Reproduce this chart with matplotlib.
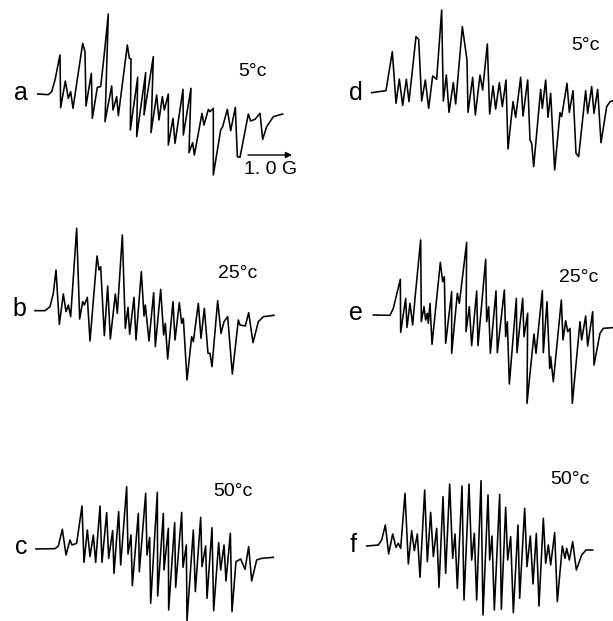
import matplotlib
matplotlib.use("Agg")
from matplotlib import pyplot as plt

a_x = [113,145,155,165,180,182,196,205,212,219,248,255,258,274,277,292,302,312,325,315,335,339,350,355,382,388,393,391,413,410,437,432,460,453,470,477,487,493,505,505,519,525,549,550,573,567,578,583,606,612,625,630,640,640,662,668,682,692,706,712,720,745,752,765,780,788,800,820,848]
a_y = [282,284,275,240,165,323,243,295,275,325,130,155,318,220,355,262,260,170,42,365,258,330,290,347,135,175,177,390,232,410,218,345,170,398,285,360,290,330,282,435,355,430,268,405,265,458,428,465,340,375,328,335,325,525,390,380,328,392,322,470,472,342,363,358,340,418,380,350,342]

b_x = [105,135,150,160,168,178,190,198,205,212,230,239,248,253,262,270,291,297,302,313,323,331,346,352,367,376,384,389,402,408,424,432,436,447,461,466,482,491,496,503,519,525,538,545,550,561,575,580,595,603,613,624,630,636,653,663,672,683,697,715,720,736,746,759,775,790,822]
b_y = [302,302,290,250,180,343,252,305,285,320,55,327,275,285,262,393,138,180,170,377,228,387,252,310,75,355,292,373,262,390,185,318,285,393,248,410,238,375,340,447,275,390,278,340,325,510,380,395,280,385,295,430,430,470,272,370,335,320,492,330,345,348,308,398,335,320,316]

c_x = [108,165,175,187,198,210,216,230,246,252,262,270,280,287,300,306,320,326,338,342,356,362,380,384,393,397,415,418,437,441,449,452,472,473,490,492,505,506,524,527,545,549,559,561,580,586,602,606,617,621,636,641,656,662,672,678,691,696,708,722,735,746,755,770,785,820]
c_y = [267,266,258,208,285,240,255,250,138,307,210,290,225,307,138,307,158,295,212,340,155,315,80,282,225,377,160,335,100,285,232,430,97,408,160,330,205,450,188,382,157,322,255,482,210,395,172,320,258,415,203,452,248,330,255,363,220,455,305,297,328,260,363,300,295,292]

d_x = [95,138,157,168,178,188,199,207,228,236,245,256,266,278,290,305,310,319,327,340,347,367,381,384,398,406,420,428,442,449,459,467,478,487,498,504,519,527,542,549,563,570,575,581,602,607,617,624,632,644,660,665,681,688,699,708,716,737,743,755,762,773,783,800,810,819]
d_y = [278,272,155,310,237,316,238,305,110,118,303,240,325,228,238,30,303,225,337,248,312,80,180,337,232,345,225,270,132,342,258,327,248,320,240,447,305,352,232,348,240,420,430,500,268,325,240,352,280,510,338,350,250,337,272,460,470,272,340,260,340,268,428,320,305,302]

e_x = [100,150,160,181,182,197,201,210,218,225,242,244,252,257,262,265,270,276,301,308,313,317,335,335,352,358,380,378,388,395,410,414,437,440,446,451,468,472,493,497,502,508,529,531,548,552,563,561,582,588,607,610,621,629,632,640,664,669,677,683,690,697,720,725,737,743,758,762,780,790,818]
e_y = [255,256,235,148,307,205,292,220,285,205,30,275,230,270,250,280,220,343,97,155,140,340,185,370,190,220,37,305,230,347,183,347,88,275,230,370,183,368,180,320,275,462,205,368,205,320,250,520,312,370,182,368,215,415,380,455,210,330,272,305,295,520,275,330,258,348,245,405,310,295,293]

f_x = [80,115,125,136,146,158,168,175,182,195,205,215,223,232,240,254,262,272,280,290,297,309,317,329,338,345,352,366,372,387,395,403,410,423,429,444,449,456,463,479,484,497,503,512,520,534,539,554,561,571,579,589,597,610,617,625,632,644,652,667,675,680,688,698,709,725,738,758]
f_y = [258,255,240,195,282,222,262,250,265,100,312,212,272,222,352,90,305,157,290,205,382,110,340,72,295,222,385,78,420,72,300,220,420,62,465,105,300,228,450,103,448,142,300,230,458,195,415,145,320,228,372,220,438,175,310,255,315,218,425,258,295,265,300,245,330,285,270,270]

panel_traces = [(a_x, a_y), (b_x, b_y), (c_x, c_y), (d_x, d_y), (e_x, e_y), (f_x, f_y)]
# crop of the picture each trace was read from: left, top, width, height
panel_crops = [(0, 0, 310, 200), (0, 210, 310, 190), (0, 460, 310, 161),
               (340, 0, 273, 180), (340, 230, 273, 180), (340, 460, 273, 161)]
panel_letters = ["a", "b", "c", "d", "e", "f"]
letter_pos = [(21, 93), (19, 309), (21, 547), (356, 93), (356, 313), (353, 545)]
temps = ["5°c", "25°c", "50°c", "5°c", "25°c", "50°c"]
temp_pos = [(252, 71), (238, 273), (233, 491), (585, 45), (579, 278), (570, 480)]

W, H = 613, 621

plt.rcParams['font.family'] = ['Liberation Sans', 'DejaVu Sans']
fig = plt.figure(figsize=(W / 100, H / 100), dpi=100, facecolor='white')

for (xs, ys), (left, top, w, h) in zip(panel_traces, panel_crops):
    ax = fig.add_axes([left / W, 1 - (top + h) / H, w / W, h / H])
    ax.plot(xs, ys, color='black', lw=1.15, solid_joinstyle='round')
    ax.set_xlim(0, 3 * w)
    ax.set_ylim(3 * h, 0)
    ax.axis('off')
    ax.patch.set_alpha(0)

# overlay in picture pixels for the text and the scale arrow
top_ax = fig.add_axes([0, 0, 1, 1])
top_ax.set_xlim(0, W)
top_ax.set_ylim(H, 0)
top_ax.axis('off')
top_ax.patch.set_alpha(0)

for letter, (x, y) in zip(panel_letters, letter_pos):
    top_ax.text(x, y, letter, fontsize=18, ha='center', va='center')
for temp, (x, y) in zip(temps, temp_pos):
    top_ax.text(x, y, temp, fontsize=14, ha='center', va='center')

top_ax.annotate("", xy=(292, 155), xytext=(248, 155),
                arrowprops=dict(arrowstyle='-|>', color='black', lw=1, mutation_scale=9, shrinkA=0, shrinkB=0))
top_ax.text(271, 170, "1. 0 G", fontsize=14, ha='center', va='center')

fig.savefig("out.png", dpi=100)
